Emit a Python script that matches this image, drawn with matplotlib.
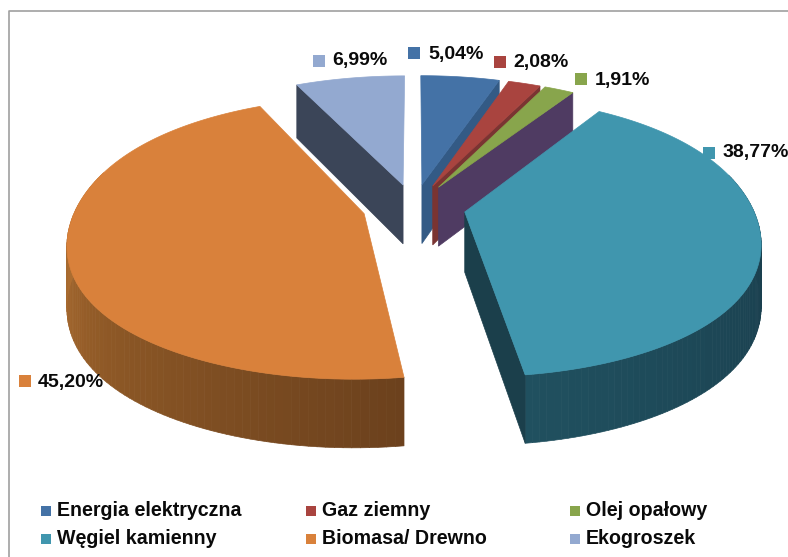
#!/usr/bin/env python3
import numpy as np
import matplotlib
matplotlib.use("Agg")
import matplotlib.pyplot as plt
from matplotlib.collections import PolyCollection
from matplotlib.colors import LinearSegmentedColormap

categories = ["Energia elektryczna", "Gaz ziemny", "Olej opałowy",
              "Węgiel kamienny", "Biomasa/ Drewno", "Ekogroszek"]
values = [5.04, 2.08, 1.91, 38.77, 45.20, 6.99]
value_labels = ["5,04%", "2,08%", "1,91%", "38,77%", "45,20%", "6,99%"]
colors = ["#4472a6", "#a9443f", "#88a54c", "#4096ae", "#d9813b", "#93a9d0"]
# colour of the cut faces, None where the face is hidden
start_faces = [None, None, None, None, None, "#3b4558"]
end_faces = ["#335a85", "#7a3432", "#4f3b62", "#1b3f4b", None, None]
# rim wall colours, ordered along the wedge's sweep
wall_colors = [["#335a85"] * 2, ["#7a3432"] * 2, ["#4f3b62"] * 2,
               ["#17394a", "#1a3f4e", "#20505f"],
               ["#6c411d", "#8d5826", "#b87535", "#c47c3a"],
               ["#3b4558"] * 2]
draw_order = [5, 0, 1, 2, 4, 3]

# label and legend anchors in pixels
label_pos = [(428, 55), (513, 62), (595, 80), (723, 153), (38, 382), (332, 60)]
marker_pos = [(414, 53), (500, 62), (581, 79), (709, 153), (25, 381), (319, 61)]
legend_x = [57, 322, 586]
legend_y = [511, 539]

# projection of the pie plane onto the picture
X0, Y0 = 414, 207
A, B, K = 300, 134.7, 0.171
SQUEEZE = 0.019
EXPLODE = 0.172
THICK, THICK_K = 60, 0.12


def project(u, v, down=0.0):
    w = 1 + K * v
    x = X0 + A * u * (1 - SQUEEZE * u ** 4) / w
    y = Y0 - B * v / w + down * THICK / (1 + THICK_K * v)
    return x, y


def draw_wedge(ax, start, end, color, start_face, end_face, wall):
    mid = (start + end) / 2
    ou, ov = EXPLODE * np.sin(mid), EXPLODE * np.cos(mid)
    t = np.linspace(start, end, 120)
    u, v = ou + np.sin(t), ov + np.cos(t)

    # outer wall, only the part that faces the viewer
    cmap = LinearSegmentedColormap.from_list("wall", wall)
    tx, ty = project(u, v)
    bx, by = project(u, v, 1)
    quads = [[(tx[i], ty[i]), (tx[i + 1], ty[i + 1]), (bx[i + 1], by[i + 1]), (bx[i], by[i])]
             for i in range(len(t) - 1)]
    shades = cmap(np.linspace(0, 1, len(quads)))
    keep = np.cos(t[:-1]) < 0.3
    if keep.any():
        quads = [q for q, k in zip(quads, keep) if k]
        shades = shades[keep]
        ax.add_collection(PolyCollection(quads, facecolors=shades, edgecolors=shades, linewidths=0.5))

    # cut faces
    for face, i in ((start_face, 0), (end_face, -1)):
        if face is None:
            continue
        ax0, ay0 = project(ou, ov)
        ax1, ay1 = project(ou, ov, 1)
        ax.fill([ax0, tx[i], bx[i], ax1], [ay0, ty[i], by[i], ay1], color=face, lw=0.5)

    # top
    ax0, ay0 = project(ou, ov)
    ax.fill(np.r_[ax0, tx], np.r_[ay0, ty], color=color, lw=0.5)


def main():
    plt.rcParams["font.family"] = ["Liberation Sans", "DejaVu Sans"]
    fig = plt.figure(figsize=(7.88, 5.57), dpi=100)
    ax = fig.add_axes([0, 0, 1, 1])
    ax.set_xlim(0, 788)
    ax.set_ylim(557, 0)
    ax.axis("off")

    # chart border
    ax.plot([788, 9, 9], [11, 11, 557], color="#a0a0a0", lw=1.2)

    edges = np.radians(np.cumsum([0] + values) * 360 / sum(values))
    for i in draw_order:
        draw_wedge(ax, edges[i], edges[i + 1], colors[i], start_faces[i], end_faces[i], wall_colors[i])

    for i, text in enumerate(value_labels):
        ax.scatter(*marker_pos[i], marker="s", s=68, color=colors[i], lw=0)
        ax.text(*label_pos[i], text, fontsize=14, fontweight="bold", color="#0a0a0a",
                va="center", ha="left")

    for i, name in enumerate(categories):
        col, row = i % 3, i // 3
        ax.scatter(legend_x[col] - 11, legend_y[row], marker="s", s=45, color=colors[i], lw=0)
        ax.text(legend_x[col], legend_y[row], name, fontsize=14.1, fontweight="bold", color="#0a0a0a",
                va="center", ha="left")

    fig.savefig("out.png", dpi=100)
    plt.close(fig)


if __name__ == "__main__":
    main()
